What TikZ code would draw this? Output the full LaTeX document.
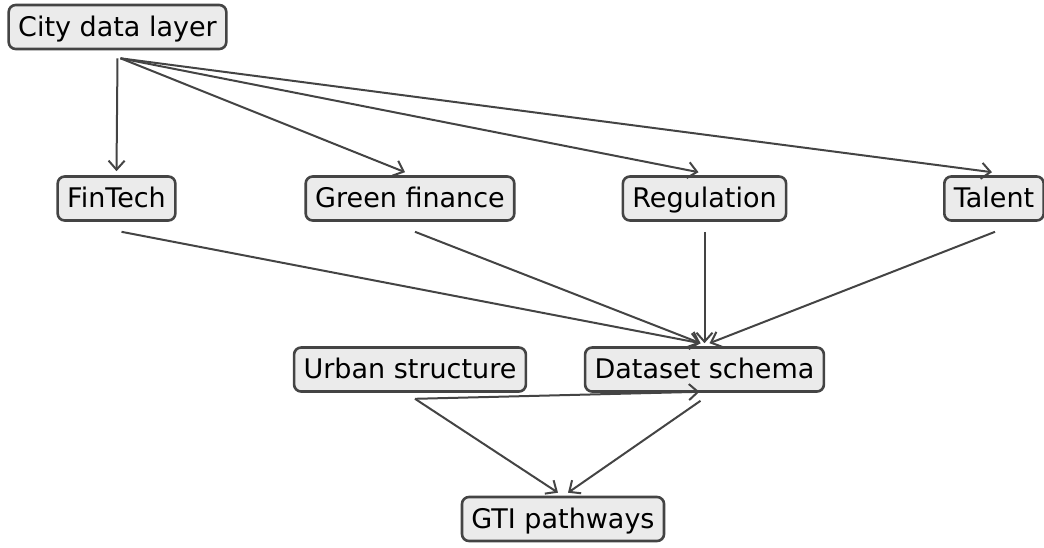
\documentclass[tikz,border=0pt]{standalone}
\usepackage{fontspec}
\setmainfont{DejaVu Sans}
\usetikzlibrary{arrows.meta}
\definecolor{boxfill}{HTML}{EBEBEB}
\definecolor{edgegray}{HTML}{444444}
\tikzset{
    stagebox/.style={draw=edgegray,fill=boxfill,line width=2.6pt,rounded corners=7pt,
        minimum height=44pt,inner xsep=9.5pt,inner ysep=0pt,
        text height=23pt,text depth=5pt,
        font=\fontsize{27}{31}\selectfont,text=black},
    flow/.style={draw=edgegray,line width=2pt,-{Straight Barb[length=9pt,width=16pt,line width=2pt]}}
}
\begin{document}
\begin{tikzpicture}[x=1pt,y=1pt]
    \useasboundingbox (0,0) rectangle (1044,-547);
    \node[stagebox] (city) at (117.5,-27) {City data layer};
    \node[stagebox] (fintech) at (116.5,-198.5) {FinTech};
    \node[stagebox] (green) at (410,-198.5) {Green finance};
    \node[stagebox] (reg) at (704.5,-198.5) {Regulation};
    \node[stagebox] (talent) at (994,-198.5) {Talent};
    \node[stagebox] (urban) at (410,-369.5) {Urban structure};
    \node[stagebox] (dataset) at (704.5,-369.5) {Dataset schema};
    \node[stagebox] (gti) at (563,-519) {GTI pathways};
    % city layer to the four drivers
    \draw[flow] ([yshift=-8pt]city.south) -- ([yshift=4pt]fintech.north);
    \foreach \dst/\dx in {green/-5,reg/-6,talent/-2}
        \draw[flow] ([xshift=3pt,yshift=-8pt]city.south) -- ([xshift=\dx pt,yshift=3pt]\dst.north);
    % drivers into the schema
    \foreach \src/\sx/\dx in {fintech/5/-4,green/5/-4,reg/0/0,talent/1/5}
        \draw[flow] ([xshift=\sx pt,yshift=-10pt]\src.south) -- ([xshift=\dx pt,yshift=3pt]dataset.north);
    \draw[flow] ([xshift=5pt,yshift=-6pt]urban.south) -- ([xshift=-5pt,yshift=1pt]dataset.south);
    \draw[flow] ([xshift=5pt,yshift=-6pt]urban.south) -- ([xshift=-5pt,yshift=3pt]gti.north);
    \draw[flow] ([xshift=-4pt,yshift=-8pt]dataset.south) -- ([xshift=5pt,yshift=3pt]gti.north);
\end{tikzpicture}
\end{document}
